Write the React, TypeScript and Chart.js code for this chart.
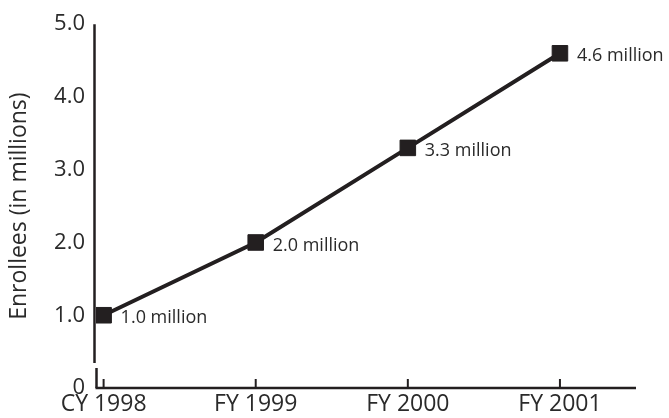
import React, { useEffect, useRef } from 'react';
import { Chart, registerables } from 'chart.js';

Chart.register(...registerables);

const categories = ['CY 1998', 'FY 1999', 'FY 2000', 'FY 2001'];
const enrollees = [1.0, 2.0, 3.3, 4.6];
const pointLabels = ['1.0 million', '2.0 million', '3.3 million', '4.6 million'];
const yTicks = [0, 1, 2, 3, 4, 5];
const yTickLabels = ['0', '1.0', '2.0', '3.0', '4.0', '5.0'];
const yTitle = 'Enrollees (in millions)';

const INK = '#231f20';
const TEXT = '#2a2a2a';
const FONT = "'Open Sans', 'Noto Sans', sans-serif";

const axesPlugin = {
  id: 'customAxes',
  beforeDatasetsDraw(chart: any) {
    const { ctx, chartArea } = chart;
    const x = chart.scales.x;
    const y = chart.scales.y;
    const left = chartArea.left;
    const bottom = y.getPixelForValue(0);
    const top = y.getPixelForValue(5);
    ctx.save();
    ctx.strokeStyle = INK;
    ctx.lineWidth = 2.5;
    ctx.lineCap = 'butt';
    // y axis with break
    ctx.beginPath();
    ctx.moveTo(left - 1.5, top);
    ctx.lineTo(left - 1.5, bottom - 25);
    ctx.stroke();
    ctx.beginPath();
    ctx.moveTo(left + 0.5, bottom - 20);
    ctx.lineTo(left + 0.5, bottom);
    ctx.stroke();
    // x axis
    ctx.beginPath();
    ctx.moveTo(left - 0.5, bottom);
    ctx.lineTo(chartArea.right, bottom);
    ctx.stroke();
    // x ticks (inward)
    ctx.lineWidth = 2;
    categories.forEach((_, i) => {
      const px = x.getPixelForValue(i);
      ctx.beginPath();
      ctx.moveTo(px, bottom);
      ctx.lineTo(px, bottom - 9);
      ctx.stroke();
    });
    ctx.restore();
  },
  afterDatasetsDraw(chart: any) {
    const { ctx } = chart;
    const meta = chart.getDatasetMeta(0);
    ctx.save();
    ctx.fillStyle = TEXT;
    ctx.font = `18px ${FONT}`;
    ctx.textAlign = 'left';
    ctx.textBaseline = 'middle';
    meta.data.forEach((pt: any, i: number) => {
      ctx.fillText(pointLabels[i], pt.x + 17, pt.y + 3);
    });
    ctx.restore();
  },
};

export default function App() {
  const ref = useRef<HTMLCanvasElement | null>(null);

  useEffect(() => {
    if (!ref.current) return;
    const chart = new Chart(ref.current, {
      type: 'line',
      data: {
        datasets: [
          {
            data: enrollees.map((v, i) => ({ x: i, y: v })),
            borderColor: INK,
            borderWidth: 4,
            backgroundColor: INK,
            pointStyle: 'rect',
            pointRadius: 11,
            pointBorderWidth: 1,
            pointBorderColor: INK,
            pointBackgroundColor: INK,
            tension: 0,
          },
        ],
      },
      options: {
        animation: false,
        responsive: false,
        layout: { padding: { top: 21, right: 33, left: 0, bottom: 0 } },
        plugins: {
          legend: { display: false },
          tooltip: { enabled: false },
        },
        scales: {
          x: {
            type: 'linear',
            min: -0.05,
            max: 3.5,
            afterBuildTicks: (s: any) => {
              s.ticks = categories.map((_, i) => ({ value: i }));
            },
            afterFit: (s: any) => {
              s.height = 30;
            },
            grid: { display: false, drawTicks: false },
            border: { display: false },
            ticks: {
              padding: 3,
              color: TEXT,
              autoSkip: false,
              maxRotation: 0,
              font: { family: FONT, size: 23 },
              callback: (v: any) => categories[Math.round(Number(v))] ?? '',
            },
          },
          y: {
            min: 0,
            max: 5,
            afterBuildTicks: (s: any) => {
              s.ticks = yTicks.map((v) => ({ value: v }));
            },
            afterFit: (s: any) => {
              s.width = 96;
            },
            grid: { display: false, drawTicks: false },
            border: { display: false },
            ticks: {
              padding: 11,
              color: TEXT,
              font: { family: FONT, size: 22 },
              callback: (v: any) => yTickLabels[yTicks.indexOf(Number(v))] ?? '',
            },
            title: {
              display: true,
              text: yTitle,
              color: TEXT,
              font: { family: FONT, size: 23 },
              padding: { top: 6, bottom: 0 },
            },
          },
        },
      },
      plugins: [axesPlugin],
    });
    return () => chart.destroy();
  }, []);

  return (
    <div style={{ position: 'fixed', left: 0, top: 0, width: 669, height: 418, background: '#fff' }}>
      <canvas ref={ref} width={669} height={418} />
    </div>
  );
}
